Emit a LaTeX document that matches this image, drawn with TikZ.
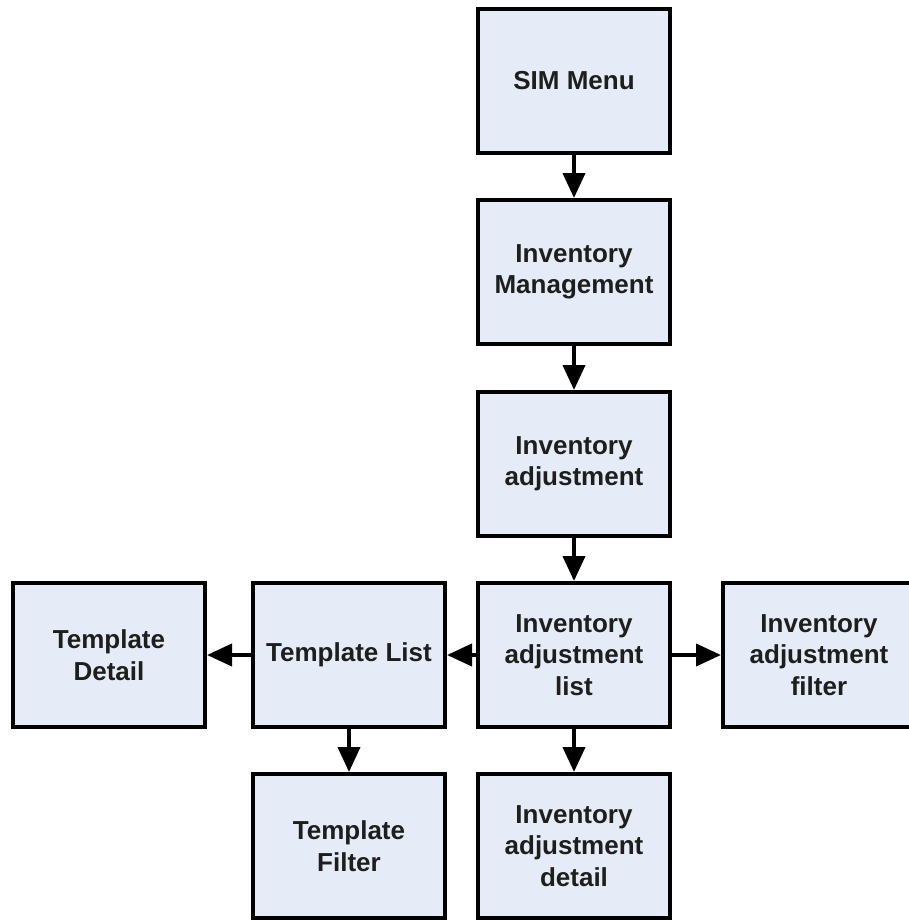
\documentclass[tikz,border=0pt]{standalone}
\usepackage{fontspec}
\setmainfont{Liberation Sans}
\usepackage{xcolor}
\usetikzlibrary{arrows.meta}
\definecolor{screenfill}{RGB}{230,236,247}
\definecolor{screentext}{RGB}{30,30,30}

\begin{document}
\begin{tikzpicture}[x=0.5pt,y=-0.5pt,
	screen/.style={draw=black, line width=2pt, fill=screenfill, text=screentext,
		minimum width=96pt, minimum height=72pt, inner sep=0pt, align=center,
		font=\fontsize{13}{15.7}\selectfont\bfseries},
	link/.style={line width=2pt, -{Triangle[length=12.5pt,width=11pt]}}]
	\useasboundingbox (0,0) rectangle (909,921);
	% main column
	\node [screen] (sim) at (574,81) {SIM Menu};
	\node [screen] (mgmt) at (574,272) {Inventory\\Management};
	\node [screen] (adj) at (574,464) {Inventory\\adjustment};
	\node [screen] (adjlist) at (574,655) {Inventory\\adjustment\\list};
	\node [screen] (adjdetail) at (574,846) {Inventory\\adjustment\\detail};
	\node [screen] (adjfilter) at (819,655) {Inventory\\adjustment\\filter};
	% templates
	\node [screen] (tlist) at (349,655) {Template List};
	\node [screen] (tdetail) at (109,655) {Template\\Detail};
	\node [screen] (tfilter) at (349,846) {Template\\Filter};
	\foreach \from/\to in {sim/mgmt, mgmt/adj, adj/adjlist, adjlist/adjdetail,
		adjlist/adjfilter, adjlist/tlist, tlist/tdetail, tlist/tfilter}
	{
		\draw [link] (\from) -- (\to);
	}
\end{tikzpicture}
\end{document}
